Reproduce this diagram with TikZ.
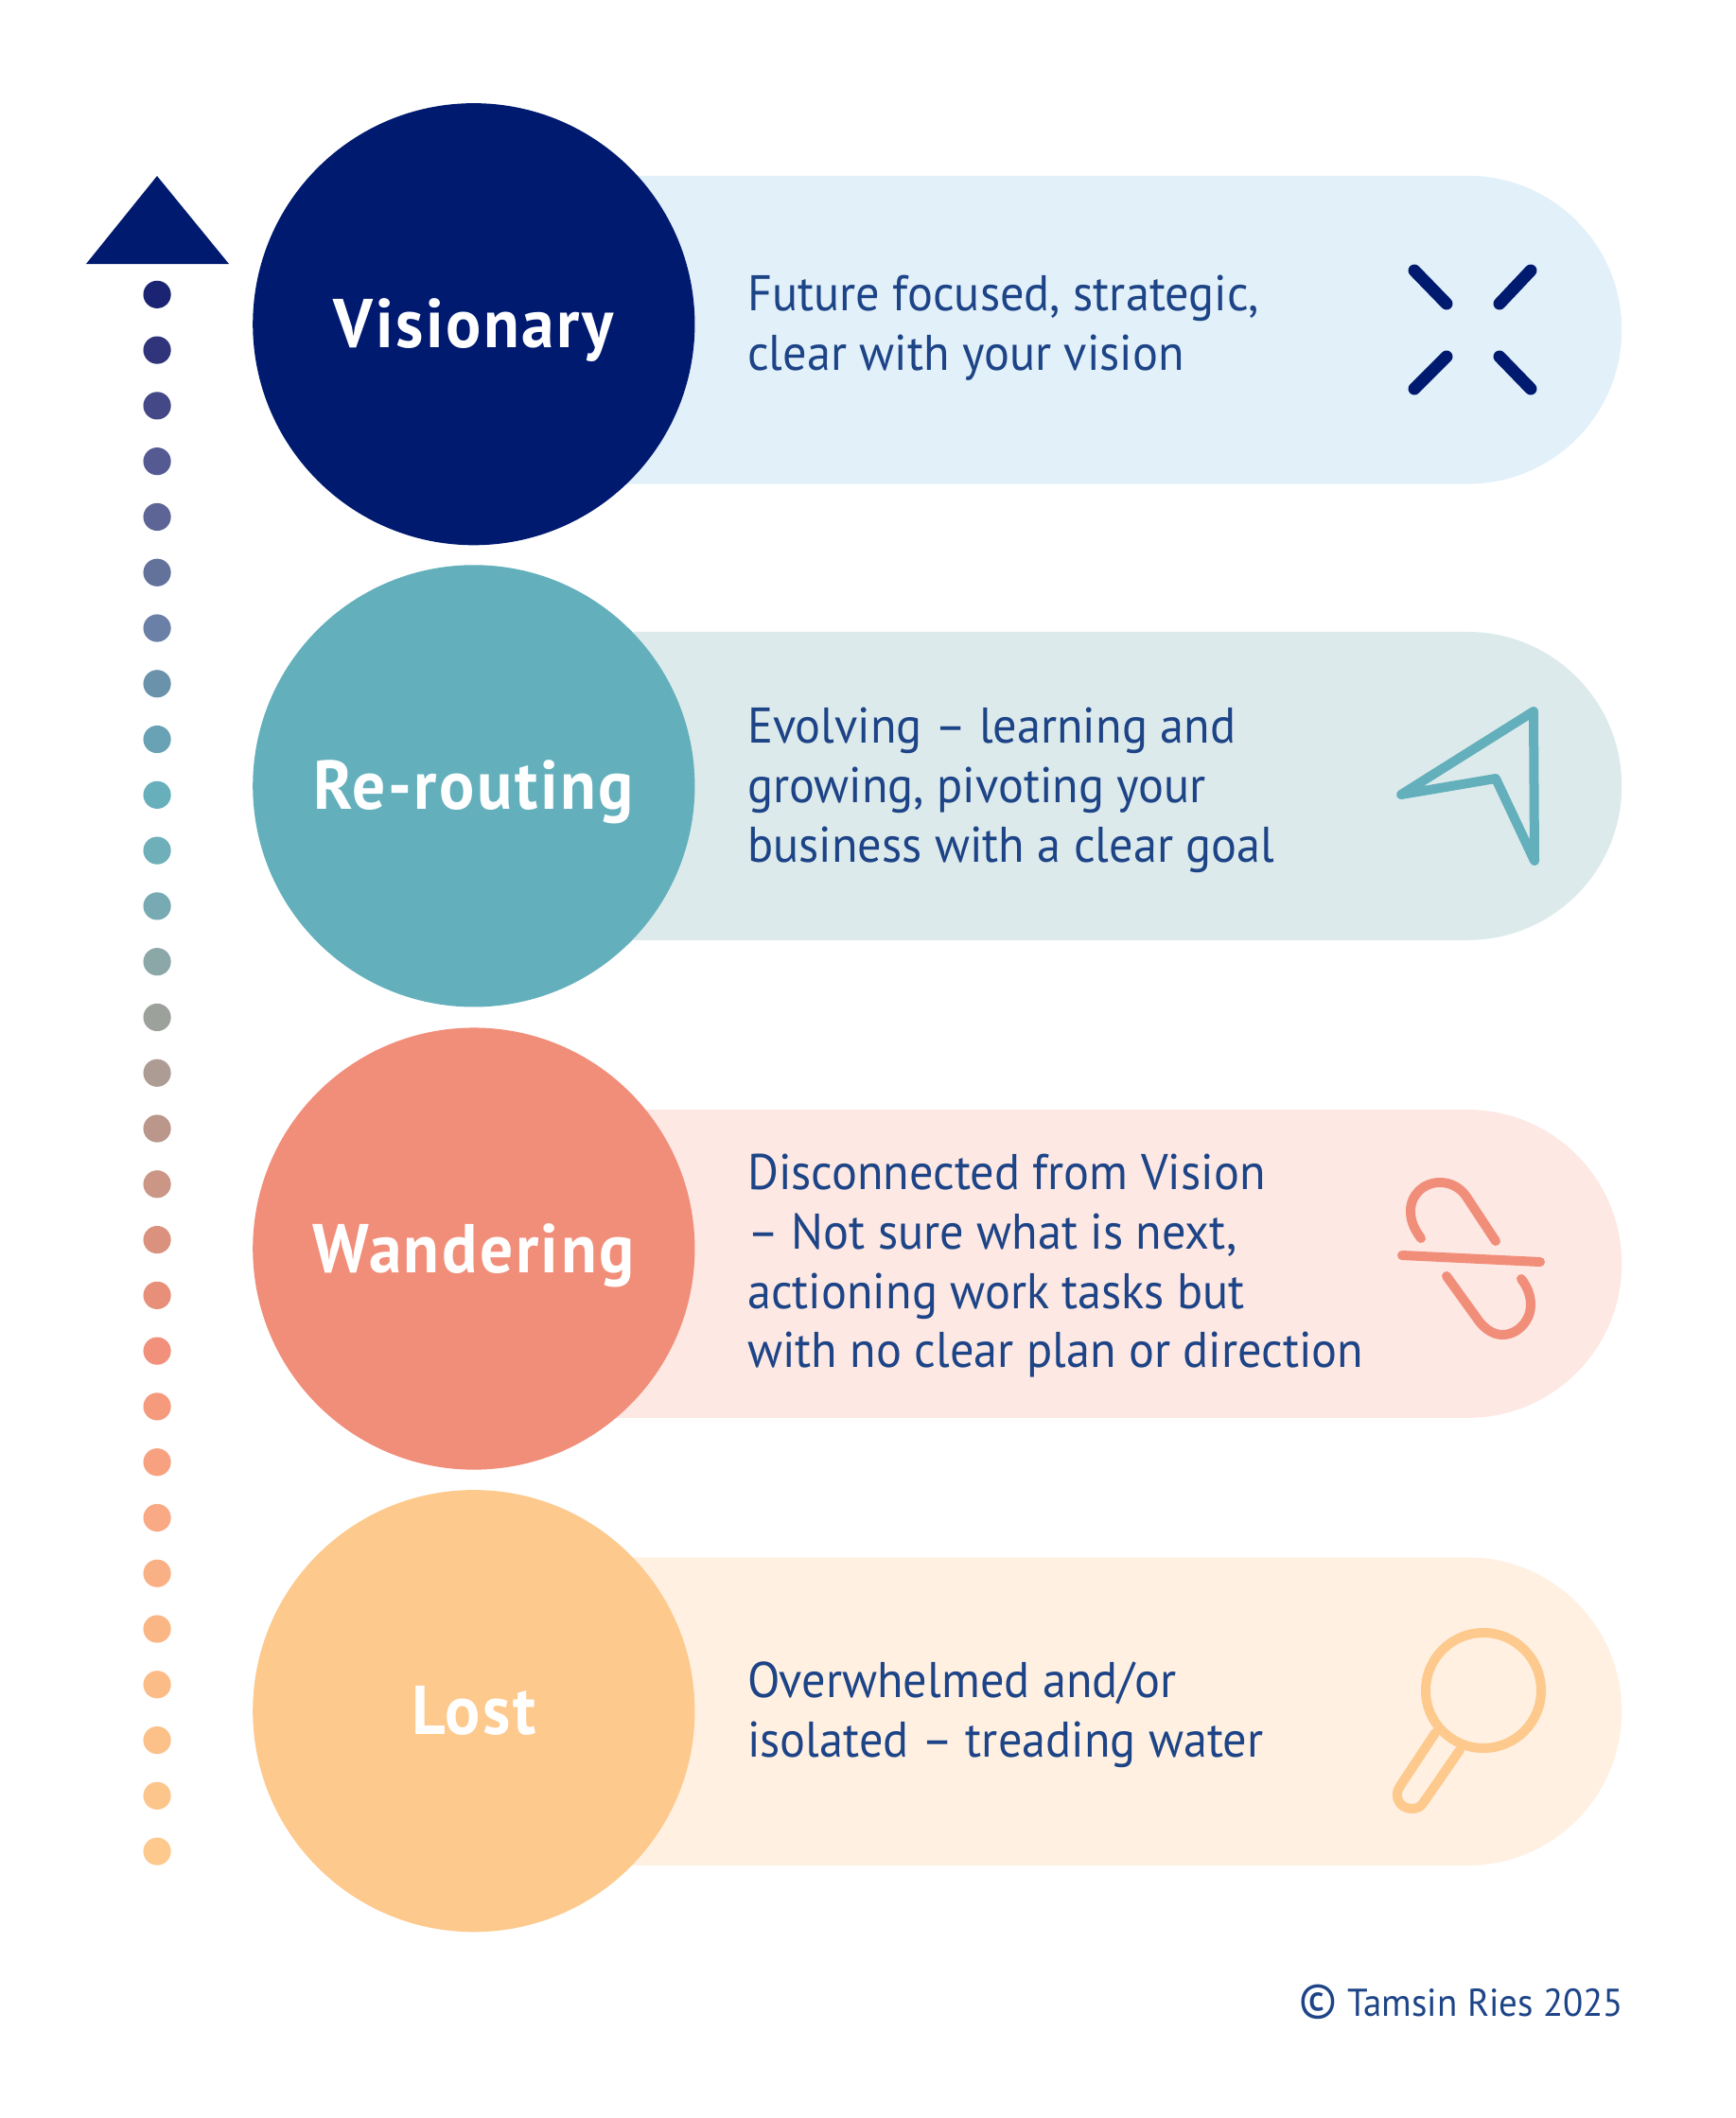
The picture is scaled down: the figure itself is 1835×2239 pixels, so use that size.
\documentclass[tikz,border=0pt]{standalone}
\usepackage{fontspec}
\setmainfont{PT Sans}[FakeStretch=0.95]
\usetikzlibrary{positioning, shapes.misc}

\definecolor{navy_c}{HTML}{001A70}
\definecolor{teal_c}{HTML}{63B0BC}
\definecolor{salmon_c}{HTML}{F18E7A}
\definecolor{orange_c}{HTML}{FDC98C}
\definecolor{navy_light}{HTML}{E2F0F9}
\definecolor{teal_light}{HTML}{DDEAEB}
\definecolor{salmon_light}{HTML}{FDE8E3}
\definecolor{orange_light}{HTML}{FFF0E2}
\definecolor{text_c}{HTML}{1D4487}

\begin{document}
\begin{tikzpicture}[x=0.5pt, y=-0.5pt,
        level_circle/.style={circle, minimum size=233.6pt, inner sep=0pt, text=white,
            text height=25pt, text depth=0pt,
            font=\fontsize{36.5}{40}\selectfont\bfseries\addfontfeatures{LetterSpace=3.5}},
        level_band/.style={rounded rectangle, rounded rectangle left arc=none,
            minimum width=606.7pt, minimum height=162.9pt, inner sep=0pt},
        level_text/.style={align=left, inner sep=0pt, text=text_c, yshift=-2.1pt,
            font=\fontsize{26.5}{31.4}\selectfont},
        trail_dot/.style={circle, minimum size=14.6pt, inner sep=0pt},
        icon_line/.style={line cap=round, line join=round, line width=5pt}]

        \useasboundingbox[fill=white] (0,0) rectangle (1835,2239);

        \begin{scope}[x=0.49813pt, y=-0.49813pt]
        % Bands first, the circles sit on top of their left ends
        \node[level_band, fill=navy_light] (visionary_band) at (1111.7,350) {};
        \node[level_band, fill=teal_light] (rerouting_band) at (1111.7,834) {};
        \node[level_band, fill=salmon_light] (wandering_band) at (1111.7,1341) {};
        \node[level_band, fill=orange_light] (lost_band) at (1111.7,1816) {};

        \node[level_circle, fill=navy_c] (visionary) at (502.7,344) {Visionary};
        \node[level_circle, fill=teal_c] (rerouting) at (502.7,834) {Re-routing};
        \node[level_circle, fill=salmon_c] (wandering) at (502.7,1325) {Wandering};
        \node[level_circle, fill=orange_c] (lost) at (502.7,1815.5) {Lost};

        % Descriptions
        \node[level_text, right=27.5pt of visionary] (visionary_text) {Future focused, strategic,\\clear with your vision};
        \node[level_text, right=27.5pt of rerouting] (rerouting_text) {Evolving -- learning and\\growing, pivoting your\\business with a clear goal};
        \node[level_text, right=27.5pt of wandering, yshift=-7pt] (wandering_text) {Disconnected from Vision\\-- Not sure what is next,\\actioning work tasks but\\with no clear plan or direction};
        \node[level_text, right=27.5pt of lost] (lost_text) {Overwhelmed and/or\\isolated -- treading water};

        % Dotted trail up to the arrow head
        \foreach \i/\dothex in {0/1A2473, 1/30347A, 2/454887, 3/555A93, 4/5C6596, 5/62729A, 6/6A80A6, 7/6B92AB,
                8/68A2B4, 9/68AFBC, 10/6FAFBA, 11/77AAB2, 12/8BA7A8, 13/9DA19B, 14/AD9C94, 15/BB978B,
                16/CB9685, 17/DA927E, 18/E88F79, 19/F2917B, 20/F69A7E, 21/F8A181, 22/F9A983, 23/FAB085,
                24/FBB686, 25/FBBC88, 26/FCC089, 27/FCC58B, 28/FDC98C} {
            \definecolor{dot_c}{HTML}{\dothex}
            \node[trail_dot, fill=dot_c] (dot\i) at (166.7,312.5+59*\i) {};
        }

        \node[anchor=east, inner sep=0pt, text=text_c, font=\fontsize{20.5}{24}\selectfont] (credit) at (1723,2124)
            {{\fontsize{26}{24}\selectfont\textcopyright} Tamsin Ries 2025};
        \end{scope}

        \fill[navy_c] (166,186) -- (242,279) -- (91,279) -- cycle;

        % Visionary icon
        \begin{scope}[icon_line, navy_c, line width=6.5pt]
            \draw (1495,286) -- (1529,321);
            \draw (1618,286) -- (1585,321);
            \draw (1529,377) -- (1495,411);
            \draw (1585,377) -- (1618,411);
        \end{scope}

        % Re-routing icon
        \draw[icon_line, teal_c] (1621,752) -- (1481,840) -- (1581,823) -- (1622,910) -- cycle;

        % Wandering icon
        \begin{scope}[icon_line, salmon_c]
            \draw (1482,1327) -- (1628,1334);
            \draw (1502,1309) .. controls (1494,1298) and (1491,1290) .. (1491,1280)
                .. controls (1491,1263) and (1505,1250) .. (1522,1250)
                .. controls (1534,1250) and (1544,1256) .. (1550,1265) -- (1581,1312);
            \draw (1529,1349) -- (1560,1392)
                .. controls (1567,1403) and (1577,1411) .. (1588,1411)
                .. controls (1605,1411) and (1618,1395) .. (1618,1380)
                .. controls (1618,1370) and (1615,1361) .. (1608,1352);
        \end{scope}

        % Lost icon
        \begin{scope}[icon_line, orange_c]
            \draw (1568,1787) circle[radius=61];
            \draw (1517,1832) -- (1480,1888)
                .. controls (1472,1899) and (1480,1912) .. (1492,1912)
                .. controls (1498,1912) and (1502,1910) .. (1505,1905) -- (1543,1850);
        \end{scope}
\end{tikzpicture}
\end{document}
